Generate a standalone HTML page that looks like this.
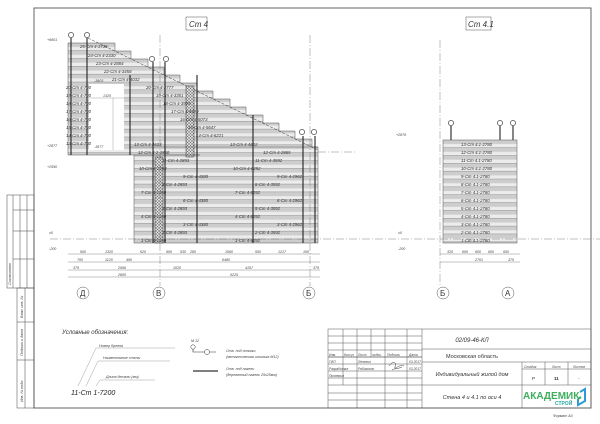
<!DOCTYPE html>
<html><head><meta charset="utf-8"><style>
html,body{margin:0;padding:0;background:#fff;}
svg{display:block;font-family:"Liberation Sans","DejaVu Sans",sans-serif;}
.t{font-size:4.3px;font-style:italic;fill:#333;}
.d{font-size:3.6px;font-style:italic;fill:#444;}
</style></head><body>
<svg width="600" height="424" viewBox="0 0 600 424" xmlns="http://www.w3.org/2000/svg">
<defs>
<pattern id="rows" x="0" y="43" width="10" height="7.85" patternUnits="userSpaceOnUse">
<rect width="10" height="7.85" fill="#ececec"/>
<rect width="10" height="4" fill="#cdcdcd"/>
<line x1="0" y1="7.6" x2="10" y2="7.6" stroke="#777" stroke-width="0.4"/>
</pattern>
<pattern id="rows2" x="0" y="140" width="10" height="7.85" patternUnits="userSpaceOnUse">
<rect width="10" height="7.85" fill="#ececec"/>
<rect width="10" height="4" fill="#cdcdcd"/>
<line x1="0" y1="7.6" x2="10" y2="7.6" stroke="#777" stroke-width="0.4"/>
</pattern>
<pattern id="hatch" width="3" height="3" patternUnits="userSpaceOnUse">
<rect width="3" height="3" fill="#ddd"/>
<path d="M0,3 L3,0 M0,0 L3,3" stroke="#555" stroke-width="0.4"/>
</pattern>
</defs>

<rect x="34" y="8" width="557" height="400" fill="none" stroke="#555" stroke-width="0.9"/>
<g stroke="#444" stroke-width="0.5" fill="none">
<rect x="7" y="195" width="27" height="93"/>
<line x1="13" y1="195" x2="13" y2="288"/><line x1="20" y1="195" x2="20" y2="288"/><line x1="27" y1="195" x2="27" y2="288"/>
<line x1="13" y1="210" x2="34" y2="210"/><line x1="13" y1="231" x2="34" y2="231"/><line x1="13" y1="259" x2="34" y2="259"/>
<rect x="17" y="288" width="17" height="120"/>
<line x1="25" y1="288" x2="25" y2="408"/>
<line x1="17" y1="322" x2="34" y2="322"/><line x1="17" y1="360" x2="34" y2="360"/>
</g>
<text class="d" transform="translate(11,285) rotate(-90)">Согласовано</text>
<text class="d" transform="translate(23,318) rotate(-90)">Взам. инв. №</text>
<text class="d" transform="translate(23,356) rotate(-90)">Подпись и дата</text>
<text class="d" transform="translate(23,402) rotate(-90)">Инв. № подл.</text>

<rect x="186" y="17" width="21" height="13" fill="none" stroke="#555" stroke-width="0.5"/>
<text x="189" y="27" style="font-size:8px;font-style:italic;fill:#333">Ст 4</text>
<rect x="466" y="17" width="25" height="13" fill="none" stroke="#555" stroke-width="0.5"/>
<text x="468" y="27" style="font-size:8px;font-style:italic;fill:#333">Ст 4.1</text>

<path d="M68,43 H115 V51 H131 V59 H148 V67 H164 V75 H180 V83 H197 V91 H213 V99 H230 V107 H246 V115 H263 V123 H279 V131 H295 V139 H312 V147 H318 V243 H134 V155 H68 Z" fill="url(#rows)" stroke="#555" stroke-width="0.5"/>
<rect x="89" y="84" width="35" height="66" fill="#fff"/>
<line x1="89" y1="98" x2="124" y2="98" stroke="#666" stroke-width="0.3"/>
<line x1="113" y1="98" x2="113" y2="150" stroke="#666" stroke-width="0.3"/>
<text class="d" x="103" y="97">1320</text>
<text class="d" x="94" y="82">-3603</text>
<text class="d" x="94" y="148">-3677</text>
<line x1="88" y1="38" x2="318" y2="150" stroke="#333" stroke-width="0.5" stroke-dasharray="3,1.5"/>
<rect x="186" y="86" width="8" height="71" fill="url(#hatch)" stroke="#333" stroke-width="0.5"/>
<rect x="155" y="157" width="8" height="86" fill="url(#hatch)" stroke="#333" stroke-width="0.5"/>
<line x1="134" y1="155" x2="200" y2="155" stroke="#333" stroke-width="0.6"/>
<line x1="130" y1="147" x2="318" y2="147" stroke="#444" stroke-width="0.4"/>

<g stroke="#222" stroke-width="1.1">
<line x1="71" y1="38" x2="71" y2="155"/><line x1="87" y1="38" x2="87" y2="155"/>
<line x1="130" y1="75" x2="130" y2="155"/>
<line x1="153" y1="62" x2="153" y2="243"/><line x1="165" y1="62" x2="165" y2="243"/>
<line x1="197" y1="75" x2="197" y2="243"/><line x1="253" y1="115" x2="253" y2="243"/>
<line x1="303" y1="136" x2="303" y2="243"/><line x1="315" y1="136" x2="315" y2="243"/>
<line x1="451" y1="126" x2="451" y2="243"/><line x1="500" y1="126" x2="500" y2="243"/><line x1="513" y1="126" x2="513" y2="243"/>
</g>
<g fill="#fff" stroke="#222" stroke-width="0.6">
<circle cx="71" cy="35" r="2.6"/><circle cx="87" cy="35" r="2.6"/>
<circle cx="152" cy="59" r="2.6"/><circle cx="166" cy="59" r="2.6"/>
<circle cx="302" cy="132" r="2.6"/><circle cx="314" cy="132" r="2.6"/>
<circle cx="451" cy="123" r="2.6"/><circle cx="500" cy="123" r="2.6"/><circle cx="513" cy="123" r="2.6"/>
</g>

<g class="t">
<text x="80" y="48">25-Ст 4-1736</text><text x="88" y="57">24-Ст 4-2330</text>
<text x="96" y="65">23-Ст 4-2884</text><text x="104" y="73">22-Ст 4-3458</text>
<text x="112" y="81">21-Ст 4-4032</text>
<text x="66" y="89">20-Ст 4-700</text><text x="66" y="97">19-Ст 4-700</text><text x="66" y="105">18-Ст 4-700</text>
<text x="66" y="113">17-Ст 4-700</text><text x="66" y="121">16-Ст 4-700</text><text x="66" y="129">15-Ст 4-700</text>
<text x="66" y="137">14-Ст 4-700</text><text x="66" y="145">13-Ст 4-700</text>
<text x="146" y="89">20-Ст 4-2777</text><text x="156" y="97">19-Ст 4-3351</text>
<text x="163" y="105">18-Ст 4-3925</text><text x="171" y="113">17-Ст 4-4499</text>
<text x="180" y="121">16-Ст 4-5073</text><text x="188" y="129">15-Ст 4-5647</text>
<text x="196" y="137">14-Ст 4-6221</text>
<text x="134" y="146">13-Ст 4-4633</text><text x="230" y="146">13-Ст 4-4622</text>
<text x="138" y="154">12-Ст 4-2-2850</text><text x="263" y="154">12-Ст 4-2865</text>
<text x="162" y="162">11-Ст 4-2893</text><text x="255" y="162">11-Ст 4-3592</text>
<text x="139" y="170">10-Ст 4-2263</text><text x="233" y="170">10-Ст 4-6292</text>
<text x="183" y="178">9-Ст 4-4380</text><text x="277" y="178">9-Ст 4-2962</text>
<text x="162" y="186">8-Ст 4-2893</text><text x="255" y="186">8-Ст 4-3592</text>
<text x="141" y="194">7-Ст 4-1260</text><text x="235" y="194">7-Ст 4-6292</text>
<text x="183" y="202">6-Ст 4-4380</text><text x="277" y="202">6-Ст 4-2962</text>
<text x="162" y="210">5-Ст 4-2893</text><text x="255" y="210">5-Ст 4-3592</text>
<text x="141" y="218">4-Ст 4-1260</text><text x="235" y="218">4-Ст 4-6292</text>
<text x="183" y="226">3-Ст 4-4380</text><text x="277" y="226">3-Ст 4-2962</text>
<text x="162" y="234">2-Ст 4-2893</text><text x="255" y="234">2-Ст 4-3592</text>
<text x="141" y="242">1-Ст 4-1260</text><text x="235" y="242">1-Ст 4-6292</text>
</g>
<g class="d">
<text x="47" y="41">+6601</text><text x="47" y="147">+2877</text><text x="47" y="168">+2590</text>
<text x="49" y="234">±0</text><text x="49" y="250">-200</text>
</g>

<rect x="443" y="140" width="74" height="103" fill="url(#rows2)" stroke="#555" stroke-width="0.5"/>
<g class="t">
<text x="461" y="146">13-Ст 4.1-2780</text><text x="461" y="154">12-Ст 4.1-2780</text>
<text x="461" y="162">11-Ст 4.1-2780</text><text x="461" y="170">10-Ст 4.1-2780</text>
<text x="461" y="178">9-Ст 4.1-2780</text><text x="461" y="186">8-Ст 4.1-2780</text>
<text x="461" y="194">7-Ст 4.1-2780</text><text x="461" y="202">6-Ст 4.1-2780</text>
<text x="461" y="210">5-Ст 4.1-2780</text><text x="461" y="218">4-Ст 4.1-2780</text>
<text x="461" y="226">3-Ст 4.1-2780</text><text x="461" y="234">2-Ст 4.1-2780</text>
<text x="461" y="242">1-Ст 4.1-2780</text>
</g>
<g class="d"><text x="396" y="136">+2876</text><text x="398" y="234">±0</text><text x="398" y="250">-200</text></g>

<g stroke="#666" stroke-width="0.4" stroke-dasharray="8,2,1,2">
<line x1="160" y1="35" x2="160" y2="286"/><line x1="310" y1="35" x2="310" y2="286"/>
<line x1="440" y1="40" x2="440" y2="286"/>
<line x1="50" y1="239" x2="600" y2="239"/>
<line x1="318" y1="152" x2="355" y2="152"/>
</g>
<g fill="#fff" stroke="#555" stroke-width="0.5">
<circle cx="83" cy="293" r="6"/><circle cx="159" cy="293" r="6"/><circle cx="309" cy="293" r="6"/>
<circle cx="443" cy="293" r="6"/><circle cx="508" cy="293" r="6"/>
</g>
<g style="font-size:8px;fill:#333">
<text x="80" y="296">Д</text><text x="156" y="296">В</text><text x="306" y="296">Б</text>
<text x="440" y="296">Б</text><text x="505" y="296">А</text>
</g>

<g stroke="#555" stroke-width="0.35">
<line x1="68" y1="254" x2="320" y2="254"/><line x1="68" y1="262" x2="320" y2="262"/>
<line x1="68" y1="270" x2="320" y2="270"/><line x1="68" y1="277" x2="320" y2="277"/>
<line x1="440" y1="254" x2="520" y2="254"/><line x1="440" y1="262" x2="520" y2="262"/>
</g>
<g class="d">
<text x="80" y="253">500</text><text x="105" y="253">1320</text><text x="140" y="253">620</text><text x="166" y="253">600</text>
<text x="180" y="253">530</text><text x="190" y="253">280</text><text x="225" y="253">1560</text><text x="255" y="253">500</text>
<text x="278" y="253">1217</text><text x="303" y="253">100</text>
<text x="77" y="261">700</text><text x="105" y="261">1120</text><text x="126" y="261">490</text><text x="222" y="261">6480</text>
<text x="73" y="269">375</text><text x="118" y="269">2696</text><text x="173" y="269">1020</text><text x="245" y="269">4157</text><text x="313" y="269">375</text>
<text x="118" y="276">2800</text><text x="230" y="276">5225</text>
<text x="447" y="253">325</text><text x="462" y="253">600</text><text x="475" y="253">600</text><text x="488" y="253">600</text><text x="503" y="253">600</text>
<text x="475" y="261">2701</text><text x="508" y="261">375</text>
</g>

<text x="62" y="334" style="font-size:6px;font-style:italic;fill:#333">Условные обозначения:</text>
<g stroke="#777" stroke-width="0.35" fill="none">
<line x1="96" y1="348" x2="175" y2="348"/><line x1="96" y1="348" x2="78" y2="386"/>
<line x1="98" y1="361" x2="170" y2="361"/><line x1="98" y1="361" x2="86" y2="386"/>
<line x1="100" y1="380" x2="155" y2="380"/><line x1="100" y1="380" x2="96" y2="386"/>
</g>
<g class="d">
<text x="99" y="347">Номер бревна</text><text x="103" y="359">Наименование стены</text>
<text x="106" y="378">Длина детали (мм)</text>
</g>
<text x="71" y="395" style="font-size:7px;font-style:italic;fill:#222">11-Ст 1-7200</text>
<text x="191" y="342" class="d">М 12</text>
<circle cx="193" cy="347" r="2.2" fill="#fff" stroke="#333" stroke-width="0.5"/>
<path d="M193,349 V352 H216" stroke="#333" stroke-width="0.6" fill="none"/>
<circle cx="207" cy="352" r="2.5" fill="#fff" stroke="#333" stroke-width="0.5"/>
<line x1="193" y1="371" x2="218" y2="371" stroke="#555" stroke-width="1.6"/>
<g class="d">
<text x="226" y="352">Отв. под стяжки</text><text x="226" y="358">(металлическая шпилька М12)</text>
<text x="226" y="370">Отв. под нагели</text><text x="226" y="376">(деревянный нагель 25х25мм)</text>
</g>

<g stroke="#555" stroke-width="0.5" fill="none">
<rect x="328" y="329" width="263" height="79"/>
<line x1="422" y1="329" x2="422" y2="408"/>
<line x1="422" y1="349" x2="591" y2="349"/><line x1="422" y1="362" x2="591" y2="362"/>
<line x1="328" y1="385" x2="591" y2="385"/>
<line x1="522" y1="362" x2="522" y2="408"/>
<line x1="545" y1="362" x2="545" y2="385"/><line x1="568" y1="362" x2="568" y2="385"/>
<line x1="522" y1="369" x2="591" y2="369"/>
<line x1="343" y1="329" x2="343" y2="385"/><line x1="357" y1="329" x2="357" y2="408"/>
<line x1="371" y1="329" x2="371" y2="357"/><line x1="385" y1="329" x2="385" y2="408"/>
<line x1="407" y1="329" x2="407" y2="408"/>
<line x1="328" y1="336" x2="422" y2="336"/><line x1="328" y1="343" x2="422" y2="343"/>
<line x1="328" y1="350" x2="422" y2="350"/><line x1="328" y1="357" x2="422" y2="357" stroke-width="0.8"/>
<line x1="328" y1="364" x2="422" y2="364"/><line x1="328" y1="371" x2="422" y2="371"/>
<line x1="328" y1="378" x2="422" y2="378"/><line x1="328" y1="393" x2="422" y2="393"/>
<line x1="328" y1="400" x2="422" y2="400"/>
</g>
<g style="font-size:3.3px;font-style:italic;fill:#444">
<text x="329" y="356">Изм.</text><text x="344" y="356">Кол.уч</text><text x="358" y="356">Лист</text><text x="372" y="356">№док.</text><text x="387" y="356">Подпись</text><text x="409" y="356">Дата</text>
<text x="329" y="363">ГИП</text><text x="358" y="363">Лепехин</text><text x="409" y="363">03.2017</text>
<text x="329" y="370">Разработал</text><text x="358" y="370">Рябикович</text><text x="409" y="370">03.2017</text>
<text x="329" y="377">Проверил</text>
<text x="524" y="368">Стадия</text><text x="552" y="368">Лист</text><text x="573" y="368">Листов</text>
</g>
<path d="M389,366 c4,-6 8,-4 6,1 c-2,4 6,-4 9,-1 M392,370 c3,-2 6,-1 10,-3" stroke="#333" stroke-width="0.5" fill="none"/>
<text x="472" y="342" text-anchor="middle" style="font-size:6px;font-style:italic;fill:#333">02/09-46-КЛ</text>
<text x="472" y="358" text-anchor="middle" style="font-size:5.5px;fill:#333">Московская область</text>
<text x="472" y="376" text-anchor="middle" style="font-size:5.5px;font-style:italic;fill:#333">Индивидуальный жилой дом</text>
<text x="472" y="399" text-anchor="middle" style="font-size:5.5px;font-style:italic;fill:#333">Стена 4 и 4.1 по оси 4</text>
<g style="font-size:4.5px;fill:#333"><text x="532" y="380">Р</text><text x="554" y="380" font-weight="bold">11</text><text x="578" y="380">-</text></g>
<text x="523" y="399" style="font-size:10px;font-weight:bold;fill:#3fae5e">АКАДЕМИК</text>
<text x="555" y="405" style="font-size:5px;font-weight:bold;fill:#2aa7a0">СТРОЙ</text>
<path d="M580,392 l5,-3 v12 l-7,4 v-6" stroke="#2f9ad6" stroke-width="2" fill="none"/>
<path d="M581,397 l-3,2" stroke="#3fae5e" stroke-width="2"/>
<text x="553" y="417" class="d">Формат А3</text>
</svg>
</body></html>
